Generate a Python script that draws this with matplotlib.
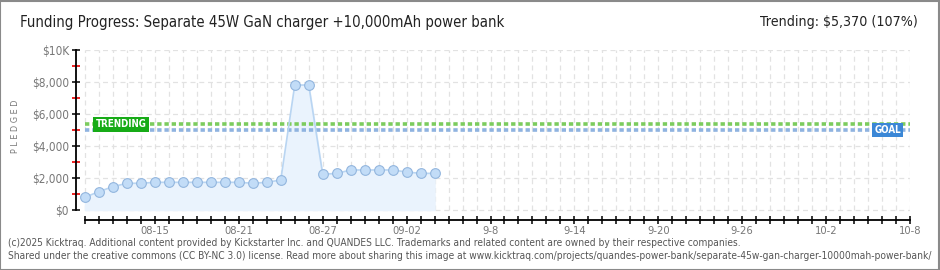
import numpy as np
import pandas as pd
import matplotlib
matplotlib.use("Agg")
import matplotlib.pyplot as plt
import matplotlib.dates as mdates
from matplotlib.patches import Rectangle
from matplotlib.ticker import FixedLocator, FuncFormatter

# データ
dates = pd.date_range("2025-08-10", "2025-09-04", freq="D")
pledged = [800, 1150, 1460, 1670, 1670, 1730, 1730, 1730, 1730, 1730, 1730, 1730, 1670,
           1730, 1875, 7810, 7810, 2230, 2290, 2500, 2500, 2500, 2500, 2375, 2290, 2290]
goal = 5000
trending = 5370
start_date = pd.Timestamp("2025-08-10")
end_date = pd.Timestamp("2025-10-08")
tick_dates = pd.date_range("2025-08-15", "2025-10-08", freq="6D")
tick_labels = ["08-15", "08-21", "08-27", "09-02", "9-8", "9-14", "9-20", "9-26", "10-2", "10-8"]
y_major = [0, 2000, 4000, 6000, 8000, 10000]
y_minor = [1000, 3000, 5000, 7000, 9000]

plt.rcParams['font.family'] = ['DejaVu Sans']
plt.rcParams['font.stretch'] = 'condensed'

fig = plt.figure(figsize=(9.4, 2.7), dpi=100)
fig.patch.set_facecolor("white")
fig.add_artist(Rectangle((0.0005, 0.001), 0.998, 0.996, transform=fig.transFigure,
                         fill=False, edgecolor="#8a8a8a", linewidth=1.5))

ax = fig.add_axes([76 / 940, 50 / 270, 834 / 940, 170 / 270])
x0 = mdates.date2num(start_date)
x1 = mdates.date2num(end_date)
ax.set_xlim(x0 - 9 / 14, x1)
ax.set_ylim(-625, 10000)

# グリッド
grid_days = mdates.date2num(pd.date_range(start_date, end_date, freq="D"))
ax.vlines(grid_days, 0, 10000, colors="#e2e2e2", linestyles=(0, (4, 3)), linewidth=0.9, zorder=0)
ax.hlines(y_major, x0, x1, colors="#e2e2e2", linestyles=(0, (4, 3)), linewidth=0.9, zorder=0)

# 目標・トレンド
ax.hlines(trending, x0, x1, colors="#7ccc5e", linestyles=(0, (1.2, 0.8)), linewidth=2.6, zorder=2)
ax.hlines(goal, x0, x1, colors="#8fb3e0", linestyles=(0, (1.2, 0.8)), linewidth=2.6, zorder=2)

# 支援額
xd = mdates.date2num(dates)
ax.fill_between(xd, 0, pledged, color="#eaf3fd", zorder=1)
ax.plot(xd, pledged, color="#b9d5f2", linewidth=1.2, zorder=3)
ax.plot(xd, pledged, "o", markersize=7, markerfacecolor="#c2dcf7",
        markeredgecolor="#93b6de", markeredgewidth=0.8, zorder=4)

ax.text(x0 + 0.75, trending, "TRENDING", color="white", fontsize=7, fontweight="bold",
        ha="left", va="center", zorder=5,
        bbox=dict(boxstyle="square,pad=0.25", facecolor="#17ab17", edgecolor="none"))
ax.text(x1 - 0.65, goal, "GOAL", color="white", fontsize=7, fontweight="bold",
        ha="right", va="center", zorder=5,
        bbox=dict(boxstyle="square,pad=0.25", facecolor="#3b87d6", edgecolor="none"))

# 軸
for s in ["top", "right"]:
    ax.spines[s].set_visible(False)
ax.spines["left"].set_bounds(0, 10000)
ax.spines["bottom"].set_bounds(x0, x1)
ax.spines["left"].set_linewidth(1.3)
ax.spines["bottom"].set_linewidth(1.3)

ax.xaxis.set_major_locator(FixedLocator(mdates.date2num(tick_dates)))
ax.xaxis.set_minor_locator(FixedLocator(grid_days))
ax.set_xticklabels(tick_labels)
ax.tick_params(axis="x", which="both", direction="inout", length=6, width=1.1, color="black",
               labelsize=8, labelcolor="#777777", pad=1)

ax.yaxis.set_major_locator(FixedLocator(y_major))
ax.yaxis.set_minor_locator(FixedLocator(y_minor))
ax.yaxis.set_major_formatter(FuncFormatter(lambda v, p: r"\$10K" if v == 10000 else r"\$" + f"{int(v):,}"))
ax.tick_params(axis="y", which="major", direction="inout", length=6, width=1.1, color="black",
               labelsize=8.5, labelcolor="#777777", pad=2)
ax.tick_params(axis="y", which="minor", direction="inout", length=6, width=1.3, color="#ee1111")
ax.set_ylabel("P L E D G E D", fontsize=6.5, color="#777777")
ax.yaxis.set_label_coords(-56 / 834, 0.55)

# タイトル
fig.text(20 / 940, 1 - 22 / 270, "Funding Progress: Separate 45W GaN charger +10,000mAh power bank",
         fontsize=10.7, color="#222222", ha="left", va="center")
fig.text(918 / 940, 1 - 22 / 270, r"Trending: \$5,370 (107%)", fontsize=10.2, color="#222222",
         ha="right", va="center")

# フッター
fig.text(8 / 940, 1 - 243 / 270,
         "(c)2025 Kicktraq. Additional content provided by Kickstarter Inc. and QUANDES LLC. "
         "Trademarks and related content are owned by their respective companies.",
         fontsize=7.3, color="#555555", ha="left", va="center")
fig.text(8 / 940, 1 - 256 / 270,
         "Shared under the creative commons (CC BY-NC 3.0) license. Read more about sharing this image at "
         "www.kicktraq.com/projects/quandes-power-bank/separate-45w-gan-charger-10000mah-power-bank/",
         fontsize=7.3, color="#555555", ha="left", va="center")

fig.savefig("out.png", dpi=100)
